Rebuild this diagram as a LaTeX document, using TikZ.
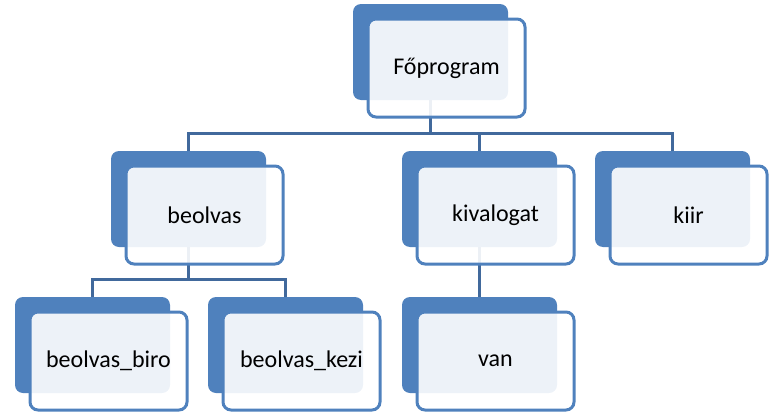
\documentclass[tikz,border=0pt]{standalone}
\usepackage{fontspec}
\setmainfont{Carlito}
\definecolor{boxblue}{HTML}{4F81BD}
\definecolor{linkblue}{HTML}{41699C}
\tikzset{
  backbox/.style={fill=boxblue, rounded corners=8pt, minimum width=155pt, minimum height=96pt, inner sep=0pt, draw=none},
  frontbox/.style={draw=boxblue, line width=3pt, fill=white, fill opacity=0.9, text opacity=1, rounded corners=8pt, minimum width=157pt, minimum height=98pt, inner sep=0pt, font=\fontsize{24}{28}\selectfont, text=black},
  link/.style={draw=linkblue, line width=3pt}
}
\newcommand{\mkitem}[4]{%
  \node[backbox] (#1) at (#2+77.5,#3+48) {};
  \node[frontbox] (#1-f) at (#2+93.5,#3+64) {#4};
}
\begin{document}
\begin{tikzpicture}[x=1pt,y=-1pt]
\useasboundingbox (0,0) rectangle (782,415);
% connector anchor points (drawn first, behind boxes)
\coordinate (c-top) at (430.5,52);
\coordinate (c-beolvas) at (188.5,199);
\coordinate (c-kivalogat) at (479,199);
\coordinate (c-kiir) at (672.5,199);
\coordinate (c-biro) at (92,345);
\coordinate (c-kezi) at (285.5,345);
\coordinate (c-van) at (479,345);
\coordinate (j1) at (430.5,133);
\coordinate (j2) at (188.5,279);
\draw[link] (c-beolvas) |- (j1) -| (c-kiir);
\draw[link] (c-top) -- (j1);
\draw[link] (c-kivalogat) -- (c-kivalogat |- j1);
\draw[link] (c-biro) |- (j2) -| (c-kezi);
\draw[link] (c-beolvas) -- (j2);
\draw[link] (c-kivalogat) -- (c-van);
% boxes
\mkitem{top}{353}{4}{Főprogram}
\mkitem{beolvas}{111}{151}{beolvas}
\mkitem{kivalogat}{402}{151}{kivalogat}
\mkitem{kiir}{595}{151}{kiir}
\mkitem{biro}{15}{297}{beolvas\_biro}
\mkitem{kezi}{208}{297}{beolvas\_kezi}
\mkitem{van}{402}{297}{van}
\end{tikzpicture}
\end{document}
